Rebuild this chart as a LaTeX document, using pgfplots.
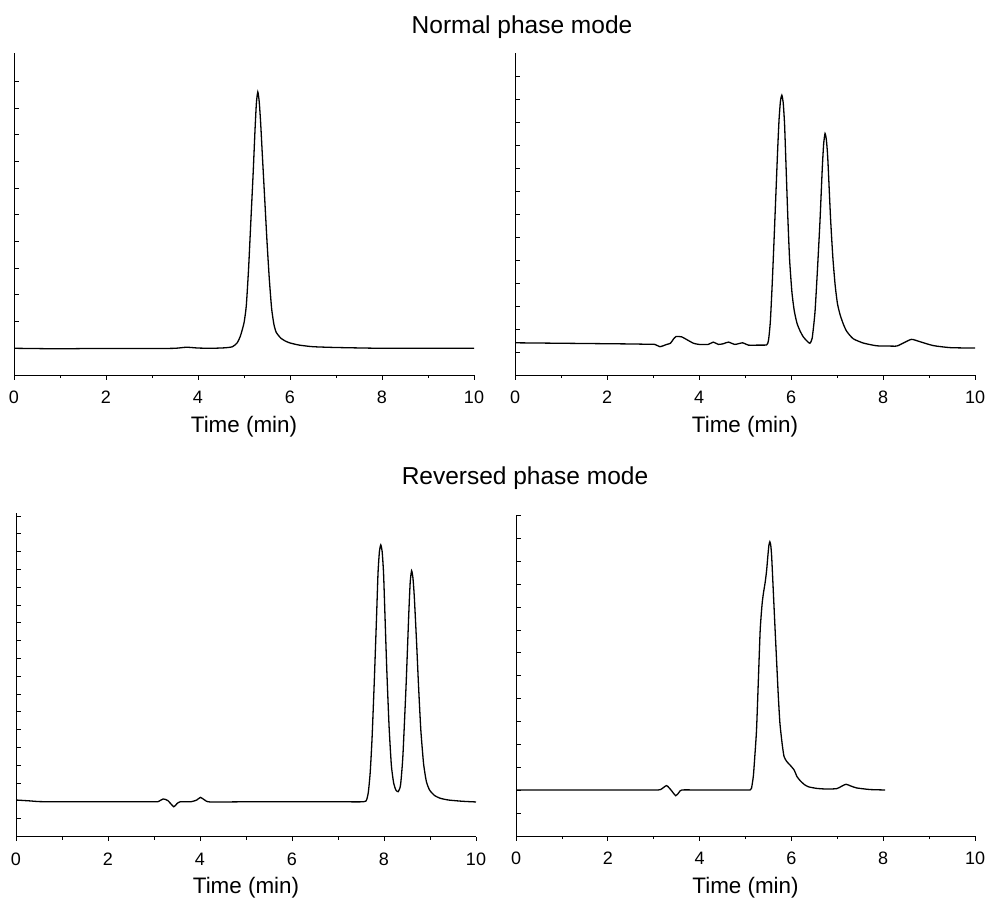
\documentclass[border=0pt]{standalone}
\usepackage{fontspec}
\setmainfont{Liberation Sans}
\usepackage{pgfplots}
\pgfplotsset{compat=1.18}
\pgfplotsset{
  chrom/.style={
    scale only axis,
    anchor=south west,
    xmin=0, xmax=10, ymin=0,
    axis x line=bottom, axis y line=left,
    axis line style={-, line width=0.8pt, black},
    xtick={0,2,...,10}, minor xtick={1,3,...,9},
    yticklabels={},
    tick align=outside,
    major tick length=4.5pt, minor tick length=3pt,
    every tick/.style={black, line width=0.8pt},
    major y tick style={xshift=4.5pt},
    /pgf/number format/assume math mode=true,
    tick label style={font=\fontsize{18}{20}\selectfont},
    xticklabel style={anchor=base, yshift=-24pt},
    xlabel={Time (min)},
    xlabel style={at={(axis description cs:0.5,0)}, anchor=base, yshift=-57pt, font=\fontsize{22.4}{26}\selectfont},
  },
  trace/.style={black, line width=1.3pt, smooth, tension=0.35, mark=none},
}
\begin{document}
\begin{tikzpicture}
\useasboundingbox (0,0) rectangle (987pt,898pt);
\node[font=\fontsize{24.5}{28}\selectfont] at (522pt,871pt) {Normal phase mode};
\node[font=\fontsize{24.5}{28}\selectfont] at (525pt,420pt) {Reversed phase mode};

% Panel 1
\begin{axis}[chrom, at={(14pt,523pt)}, width=460pt, height=322pt, ymax=12.06, ytick={1,...,11}]
\addplot[trace] coordinates {
(0,1.00)(0.5,0.99)(1,0.98)(1.5,0.99)(2,0.99)(2.5,0.99)(3,0.99)(3.5,1.00)(3.75,1.04)(4.0,1.01)(4.3,1.00)(4.6,1.02)(4.75,1.06)(4.85,1.2)(4.92,1.45)(5.0,1.95)(5.05,2.6)(5.1,4.0)(5.15,5.8)(5.2,7.6)(5.24,9.2)(5.27,10.2)(5.3,10.6)(5.33,10.25)(5.36,9.5)(5.4,8.2)(5.45,6.6)(5.5,5.0)(5.55,3.6)(5.6,2.5)(5.65,1.9)(5.7,1.6)(5.8,1.38)(5.9,1.27)(6.0,1.2)(6.2,1.12)(6.5,1.06)(7,1.03)(8,1.0)(9,1.0)(10,1.0)
};
\end{axis}

% Panel 2
\begin{axis}[chrom, at={(515pt,523pt)}, width=460pt, height=322pt, ymax=14, ytick={1,...,13}]
\addplot[trace] coordinates {
(0,1.40)(0.5,1.39)(1,1.38)(1.5,1.37)(2,1.36)(2.5,1.35)(2.8,1.34)(3.04,1.33)(3.15,1.23)(3.3,1.33)(3.38,1.38)(3.44,1.55)(3.5,1.67)(3.62,1.66)(3.75,1.52)(3.88,1.38)(4.0,1.33)(4.2,1.33)(4.31,1.43)(4.42,1.33)(4.53,1.36)(4.64,1.43)(4.78,1.33)(4.95,1.40)(5.07,1.30)(5.3,1.30)(5.47,1.31)
(5.51,1.5)(5.55,2.3)(5.59,3.9)(5.63,5.8)(5.67,7.8)(5.71,9.8)(5.74,11.1)(5.77,11.9)(5.80,12.17)(5.83,11.85)(5.86,10.9)(5.89,9.2)(5.93,6.9)(5.97,5.0)(6.02,3.6)(6.07,2.8)(6.13,2.25)(6.2,1.9)(6.27,1.65)(6.35,1.47)(6.41,1.38)
(6.46,1.6)(6.52,2.7)(6.57,4.4)(6.63,6.7)(6.68,9.0)(6.71,10.05)(6.74,10.5)(6.77,10.2)(6.80,9.4)(6.86,6.8)(6.91,5.1)(6.96,3.9)(7.01,3.1)(7.07,2.6)(7.14,2.2)(7.21,1.9)(7.35,1.58)(7.57,1.39)(7.86,1.27)(8.1,1.26)(8.3,1.26)(8.45,1.4)(8.62,1.55)(8.8,1.45)(9.09,1.28)(9.46,1.19)(10,1.17)
};
\end{axis}

% Panel 3
\begin{axis}[chrom, at={(16pt,61.5pt)}, width=460pt, height=323.5pt, ymax=18.17, ytick={1,...,18}]
\addplot[trace] coordinates {
(0,2.05)(0.3,2.0)(0.52,1.96)(1,1.95)(2,1.95)(3,1.95)(3.1,1.97)(3.2,2.11)(3.3,2.02)(3.43,1.67)(3.5,1.85)(3.57,1.95)(3.8,1.95)(3.93,2.05)(4.01,2.2)(4.1,2.05)(4.22,1.94)(5,1.95)(6,1.95)(7,1.95)(7.55,1.95)
(7.62,2.05)(7.66,2.5)(7.70,3.6)(7.74,5.5)(7.79,8.8)(7.84,12.5)(7.87,14.8)(7.90,16.0)(7.93,16.38)(7.96,16.0)(7.99,14.8)(8.02,12.5)(8.06,9.4)(8.11,6.2)(8.16,4.0)(8.21,3.0)(8.26,2.6)(8.31,2.52)
(8.36,2.9)(8.41,4.5)(8.48,8.5)(8.54,12.6)(8.57,14.3)(8.60,14.93)(8.63,14.5)(8.66,13.4)(8.71,10.8)(8.75,8.5)(8.80,6.0)(8.86,4.1)(8.92,3.1)(8.99,2.61)(9.1,2.3)(9.22,2.15)(9.4,2.05)(9.7,1.98)(10,1.94)
};
\end{axis}

% Panel 4
\begin{axis}[chrom, at={(516pt,62pt)}, width=459pt, height=321pt, ymax=14.02, ytick={1,...,14}]
\addplot[trace] coordinates {
(0,2.01)(1,2.01)(2,2.01)(3,2.01)(3.15,2.03)(3.28,2.2)(3.38,2.0)(3.48,1.76)(3.55,1.9)(3.61,2.01)(4,2.01)(5,2.01)(5.10,2.01)
(5.13,2.08)(5.17,2.6)(5.2,3.4)(5.24,4.63)(5.28,6.8)(5.32,9.0)(5.36,10.1)(5.39,10.6)(5.43,11.1)(5.46,11.6)(5.49,12.3)(5.51,12.7)(5.53,12.85)(5.55,12.7)(5.57,12.2)(5.61,10.5)(5.645,9.0)(5.68,7.54)(5.715,6.1)(5.75,4.92)(5.80,4.0)(5.84,3.47)(5.9,3.25)(5.97,3.1)(6.06,2.88)(6.12,2.6)(6.19,2.42)(6.28,2.25)(6.37,2.15)(6.55,2.08)(6.77,2.05)(6.99,2.07)(7.1,2.18)(7.19,2.26)(7.3,2.18)(7.42,2.1)(7.71,2.03)(8.04,2.01)
};
\end{axis}
\end{tikzpicture}
\end{document}
